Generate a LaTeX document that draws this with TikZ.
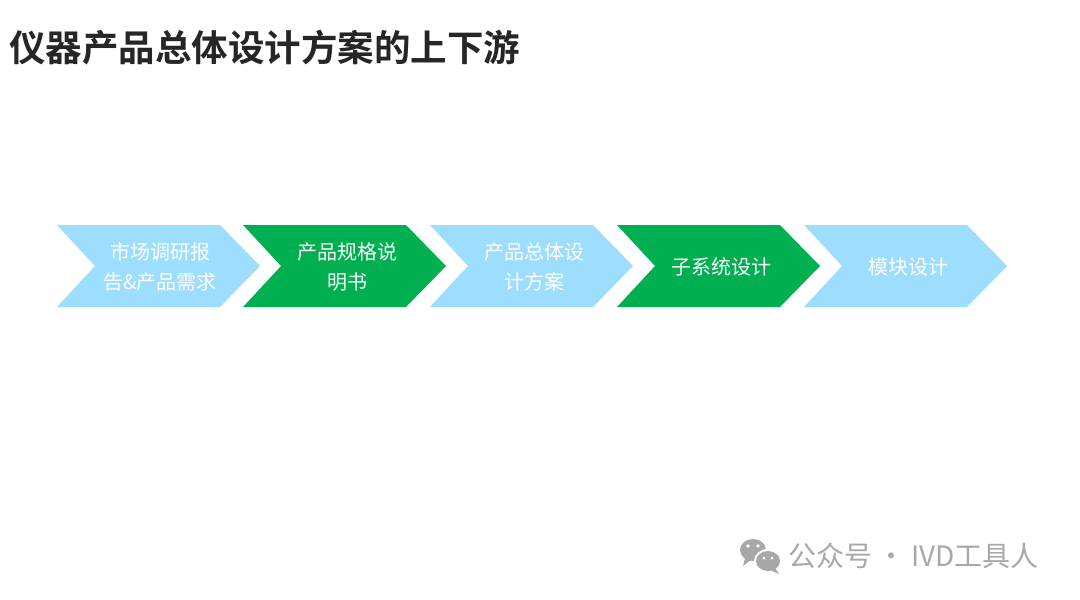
\documentclass[tikz,border=0pt]{standalone}
\usepackage{fontspec}
\newfontfamily\cjk{Noto Sans CJK SC}
\newfontfamily\cjkb{Noto Sans CJK SC Bold}
\definecolor{lblue}{HTML}{9DDDFD}
\definecolor{ogreen}{HTML}{00B050}
\definecolor{titlec}{HTML}{262626}
\definecolor{wmgrey}{HTML}{A8A8A8}
\tikzset{
  lbl/.style={text=white, align=center, inner sep=0pt,
    font=\cjk\fontsize{20}{30}\selectfont},
}
\newcommand{\chev}[2]{%
  \fill[#2] (#1,225) -- ++(163,0) -- ++(40,41) -- ++(-40,41) -- ++(-163,0) -- ++(38,-41) -- cycle;}
\begin{document}
\begin{tikzpicture}[x=1pt,y=-1pt]
\useasboundingbox (0,0) rectangle (1080,600);
\fill[white] (0,0) rectangle (1080,600);
% title
\node[anchor=west, inner sep=0pt, text=titlec, font=\cjkb\fontsize{36.5}{40}\selectfont] (title) at (9,48) {仪器产品总体设计方案的上下游};
% chevrons
\chev{57}{lblue}
\chev{243}{ogreen}
\chev{430}{lblue}
\chev{617}{ogreen}
\chev{804}{lblue}
\node[lbl] (s1) at (160,267) {市场调研报\\告\&产品需求};
\node[lbl] (s2) at (347,267) {产品规格说\\明书};
\node[lbl] (s3) at (534,267) {产品总体设\\计方案};
\node[lbl] (s4) at (721,267) {子系统设计};
\node[lbl] (s5) at (908,267) {模块设计};
% watermark icon
\fill[wmgrey] (753,550) ellipse [x radius=13, y radius=11];
\fill[wmgrey] (745,558) -- (743,566) -- (751,560) -- cycle;
\fill[white] (768,561) ellipse [x radius=14, y radius=12];
\fill[wmgrey] (768,561) ellipse [x radius=12, y radius=10];
\fill[wmgrey] (775,568) -- (779,574) -- (770,570) -- cycle;
\fill[white] (748,546) circle (1.8);
\fill[white] (758,546) circle (1.8);
\fill[white] (764,558) circle (1.5);
\fill[white] (772,558) circle (1.5);
\node[anchor=west, inner sep=0pt, text=wmgrey, font=\cjk\fontsize{28}{30}\selectfont] (wm) at (788,556) {公众号\hspace{0.2em}·\hspace{0.2em}IVD工具人};
\end{tikzpicture}
\end{document}
